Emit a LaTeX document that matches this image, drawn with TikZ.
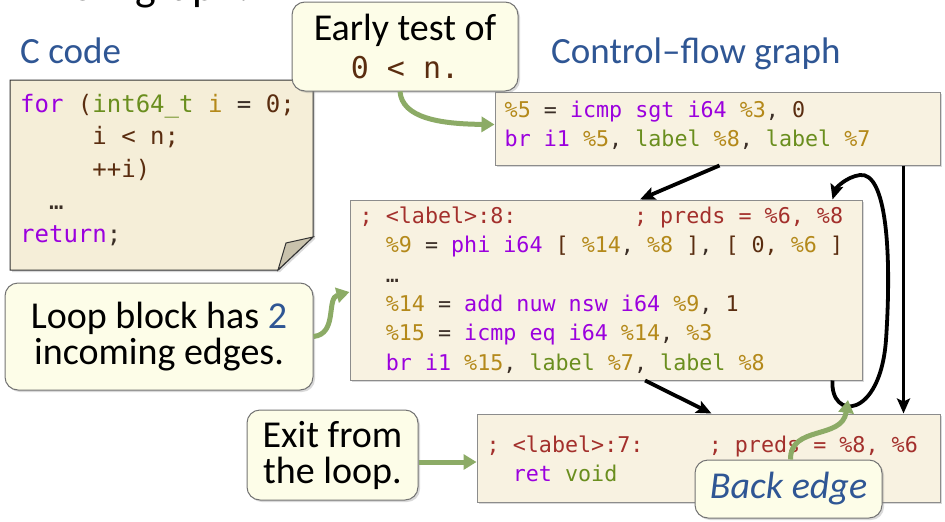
\documentclass[tikz,border=0pt]{standalone}
\usepackage{fontspec}
\setmainfont{Carlito}
\setmonofont{DejaVu Sans Mono}
\usepackage{xcolor}
\usetikzlibrary{arrows.meta,positioning,shadows}
\definecolor{titleblue}{HTML}{2F5694}
\definecolor{kwc}{HTML}{9B00DE}
\definecolor{tyc}{HTML}{6A8E1E}
\definecolor{varc}{HTML}{B4891A}
\definecolor{numc}{HTML}{5A2D10}
\definecolor{cmtc}{HTML}{A3302C}
\definecolor{plainc}{HTML}{3A2E26}
\definecolor{paper}{HTML}{F5EED8}
\definecolor{blockfill}{HTML}{F8F2E1}
\definecolor{notefill}{HTML}{FDFDE8}
\definecolor{hintc}{HTML}{8CAB66}
\definecolor{foldc}{HTML}{C9C2AC}
\newcommand{\ckw}[1]{\textcolor{kwc}{#1}}
\newcommand{\cty}[1]{\textcolor{tyc}{#1}}
\newcommand{\cvar}[1]{\textcolor{varc}{#1}}
\newcommand{\cnum}[1]{\textcolor{numc}{#1}}
\newcommand{\ccmt}[1]{\textcolor{cmtc}{#1}}
\newcommand{\pad}[1]{\leavevmode\hbox to #1\fontcharwd\font`x{\hfil}}

\begin{document}
\begin{tikzpicture}[
  x=1pt, y=-1pt,
  block/.style={draw=black!45, line width=1pt, fill=blockfill,
    drop shadow={opacity=0.3, shadow xshift=2pt, shadow yshift=-2pt}},
  code/.style={font=\fontsize{21.7}{29.4}\selectfont\ttfamily, text=plainc, align=left, inner sep=0pt},
  note/.style={draw=black!55, line width=1pt, fill=notefill, rounded corners=13pt,
    align=center, font=\fontsize{38}{36}\selectfont,
    drop shadow={opacity=0.3, shadow xshift=2pt, shadow yshift=-2pt}},
  head/.style={font=\fontsize{37}{37}\selectfont, text=titleblue, anchor=base west, inner sep=0pt},
  flow/.style={line width=3.8pt, -{Stealth[length=15pt, width=13pt, inset=3pt]}},
  hint/.style={line width=5pt, draw=hintc, -{Triangle[length=13pt, width=15pt]}},
]
\useasboundingbox (0,0) rectangle (945,522);
\clip (0,0) rectangle (945,522);

% cut-off slide title and headings
\node[anchor=base west, inner sep=0pt, font=\fontsize{44}{44}\selectfont] (slidetitle) at (48,1) {flow graph.};
\node[head] (chead) at (20,63) {C code};
\node[head] (cfghead) at (551,63) {Control–flow graph};

% C source on a sheet with a folded corner
\fill[paper, draw=black!80, line width=1pt, drop shadow={opacity=0.3, shadow xshift=2pt, shadow yshift=-2pt}]
  (10,80) -- (313,80) -- (313,237) -- (278,270) -- (10,270) -- cycle;
\filldraw[fill=foldc, draw=black!80, line width=1pt] (313,237) -- (286,243) -- (278,270) -- cycle;
\node[code, font=\fontsize{24}{32.5}\selectfont\ttfamily, anchor=west] (csrc) at (20,170)
  {\ckw{for} \cnum{(}\cty{int64\_t} \cvar{i} = \cnum{0;}\\
   \pad{5}\cnum{i < n;}\\
   \pad{5}\cnum{++i)}\\
   \pad{2}…\\
   \ckw{return};};

% basic blocks
\node[block, minimum width=445pt, minimum height=73pt] (cfgA) at (717.5,128.5) {};
\node[code, anchor=west] (cfgAtext) at ([xshift=10pt, yshift=3pt]cfgA.west)
  {\cvar{\%5} = \ckw{icmp sgt i64} \cvar{\%3}, \cnum{0}\\
   \ckw{br i1} \cvar{\%5}, \cty{label} \cvar{\%8}, \cty{label} \cvar{\%7}};

\node[block, minimum width=512pt, minimum height=180pt] (cfgB) at (606,290) {};
\node[code, anchor=west] (cfgBtext) at ([xshift=10pt]cfgB.west)
  {\ccmt{; <label>:8:\pad{9}; preds = \%6, \%8}\\
   \pad{2}\cvar{\%9} = \ckw{phi i64} \cnum{[} \cvar{\%14}, \cvar{\%8} \cnum{]}, \cnum{[ 0,} \cvar{\%6} \cnum{]}\\
   \pad{2}…\\
   \pad{2}\cvar{\%14} = \ckw{add nuw nsw i64} \cvar{\%9}, \cnum{1}\\
   \pad{2}\cvar{\%15} = \ckw{icmp eq i64} \cvar{\%14}, \cvar{\%3}\\
   \pad{2}\ckw{br i1} \cvar{\%15}, \cty{label} \cvar{\%7}, \cty{label} \cvar{\%8}};

\node[block, minimum width=463pt, minimum height=88pt] (cfgC) at (708.5,458) {};
\node[code, anchor=west] (cfgCtext) at ([xshift=10pt, yshift=-1pt]cfgC.west)
  {\ccmt{; <label>:7:\pad{5}; preds = \%8, \%6}\\
   \pad{2}\ckw{ret} \cty{void}};

% control-flow edges
\draw[flow] ([xshift=2pt]cfgA.south) -- ([xshift=34pt]cfgB.north);
\draw[flow] ([xshift=-37pt]cfgA.south east) -- ([xshift=-37pt]cfgC.north east);
\draw[flow] ([xshift=39pt]cfgB.south) -- ([xshift=3pt]cfgC.north);
\draw[flow] ([xshift=-30pt]cfgB.south east) .. controls (830,420) and (880,420) .. (886,340)
  .. controls (892,250) and (886,172) .. (860,175)
  .. controls (846,177) and (836,188) .. ([xshift=-30pt]cfgB.north east);

% callouts
\node[note, minimum width=226pt, minimum height=89pt] (early) at (405,46.5)
  {Early test of\\[2pt]{\fontsize{30}{30}\selectfont\ttfamily\color{numc}0 < n.}};
\node[note, minimum width=308pt, minimum height=107pt] (loopnote) at (159,336.5)
  {Loop block has {\color{titleblue}2}\\incoming edges.};
\node[note, minimum width=171pt, minimum height=90pt] (exitnote) at (332.5,455)
  {Exit from\\the loop.};

\draw[hint] ([xshift=-5pt]early.south) .. controls (402,118) and (440,124) .. ([yshift=4pt]cfgA.west);
\draw[hint] (loopnote.east) .. controls (338,334) and (326,298) .. ([yshift=-1pt]cfgB.west |- 0,291);
\draw[hint] (exitnote.east |- 0,462) -- (cfgC.west |- 0,462);

\node[note, minimum width=187pt, minimum height=58pt, font=\fontsize{38}{36}\selectfont\itshape, text=titleblue] (backnote) at (788.5,489) {Back edge};
\draw[hint] ([xshift=2pt]backnote.north) .. controls (790,425) and (842,440) .. (848,400);
\end{tikzpicture}
\end{document}
